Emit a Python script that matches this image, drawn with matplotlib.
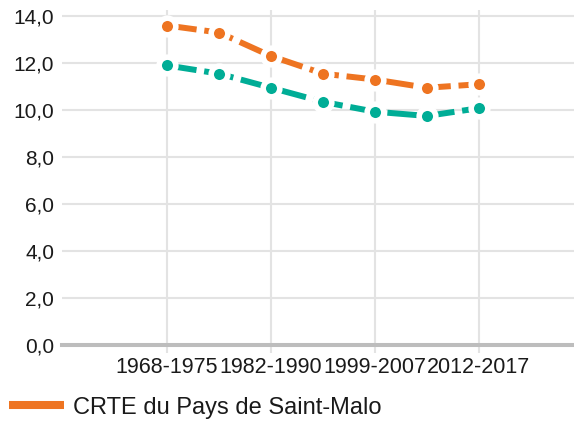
import matplotlib
matplotlib.use("Agg")
import matplotlib.pyplot as plt
from matplotlib.lines import Line2D

plt.rcParams['font.family'] = ['Liberation Sans', 'DejaVu Sans']

periods = ["1968-1975", "1975-1982", "1982-1990", "1990-1999",
           "1999-2007", "2007-2012", "2012-2017"]
crte = [13.6, 13.3, 12.3, 11.55, 11.3, 10.95, 11.1]
other = [11.9, 11.55, 10.95, 10.35, 9.93, 9.75, 10.08]
yticks = [0, 2, 4, 6, 8, 10, 12, 14]

orange = "#ee7421"
teal = "#00ad96"
grid_c = "#e3e3e3"

fig = plt.figure(figsize=(5.74, 4.23), dpi=100)
ax = fig.add_axes([62 / 574, 78 / 423, 1 - 62 / 574, 335 / 423])

x = list(range(len(periods)))
style = dict(lw=4.3, dashes=(5.0, 1.3), marker="o", markersize=12,
             markeredgecolor="white", markeredgewidth=4, dash_capstyle="butt")
ax.plot(x, other, color=teal, **style, zorder=3)
ax.plot(x, crte, color=orange, **style, zorder=4)

ax.set_xlim(-2.02, 7.83)
ax.set_ylim(0, 14.26)

ax.set_yticks(yticks)
ax.set_yticklabels([f"{v:.1f}".replace(".", ",") for v in yticks])
ax.tick_params(axis="y", length=0, pad=5.5, labelsize=15, labelcolor="#1a1a1a")

ax.set_xticks(x[::2])
ax.set_xticklabels(periods[::2])
ax.tick_params(axis="x", length=5.8, width=1.5, color=grid_c, pad=3,
               labelsize=15.5, labelcolor="#1a1a1a")

ax.grid(True, color=grid_c, lw=1.5)
ax.set_axisbelow(True)
for s in ["top", "right", "left"]:
    ax.spines[s].set_visible(False)
ax.spines["bottom"].set_color("#bdbdbd")
ax.spines["bottom"].set_linewidth(2.9)
ax.spines["bottom"].set_zorder(2)

handle = Line2D([], [], color=orange, lw=5.8, solid_capstyle="butt")
fig.legend([handle], ["CRTE du Pays de Saint-Malo"], loc="center left",
           bbox_to_anchor=(9 / 574, 15.5 / 423), frameon=False, borderpad=0,
           borderaxespad=0, handlelength=2.35, handletextpad=0.35, fontsize=17,
           labelcolor="#1a1a1a")

fig.savefig("out.png", dpi=100)
